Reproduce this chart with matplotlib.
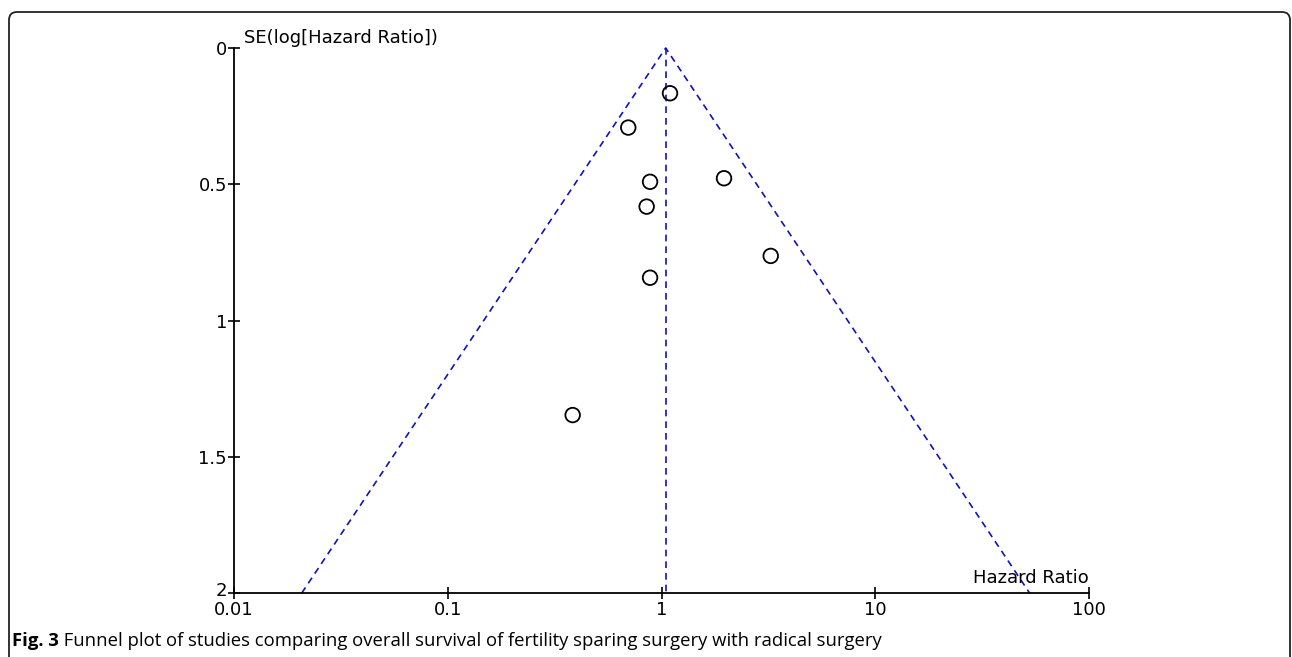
import matplotlib.pyplot as plt
import matplotlib.patches as mpatches
import matplotlib.transforms as mtransforms
import numpy as np

# Study estimates
hazard_ratio = [1.096, 0.699, 0.884, 1.961, 0.852, 3.243, 0.884, 0.384]
se_log_hr = [0.166, 0.292, 0.491, 0.478, 0.582, 0.763, 0.843, 1.347]
pooled_hr = 1.046  # position of the vertical dashed line

x_ticks = [0.01, 0.1, 1, 10, 100]
x_tick_labels = ['0.01', '0.1', '1', '10', '100']
y_ticks = [0, 0.5, 1, 1.5, 2]
y_tick_labels = ['0', '0.5', '1', '1.5', '2']

plt.rcParams['font.family'] = ['DejaVu Sans']
fig = plt.figure(figsize=(12.92, 6.57), dpi=100)
fig.patch.set_facecolor('white')

# Axes placed to match the reference
ax = fig.add_axes([234/1292, 1 - 593/657, 855/1292, 545/657])
ax.set_xscale('log')
ax.set_xlim(0.01, 100)
ax.set_ylim(2, 0)

# Funnel lines (95% pseudo confidence limits)
se_max = 2.0
lo = pooled_hr * np.exp(-1.96 * se_max)
hi = pooled_hr * np.exp(1.96 * se_max)
dash = (0, (4, 3))
ax.plot([lo, pooled_hr, hi], [se_max, 0, se_max], color='#1010c8', lw=1.2, linestyle=dash, clip_on=False)
ax.plot([pooled_hr, pooled_hr], [0, se_max], color='#1010c8', lw=1.2, linestyle=dash, clip_on=False)

# Study points
ax.scatter(hazard_ratio, se_log_hr, s=110, facecolors='none', edgecolors='black', linewidths=1.3, zorder=3, clip_on=False)

# Spines / ticks
for side in ['top', 'right']:
    ax.spines[side].set_visible(False)
for side in ['left', 'bottom']:
    ax.spines[side].set_linewidth(1.3)
ax.set_xticks(x_ticks)
ax.set_xticklabels(x_tick_labels)
ax.set_yticks(y_ticks)
ax.set_yticklabels(y_tick_labels)
ax.minorticks_off()
ax.tick_params(direction='inout', length=8, width=1.2, labelsize=13, pad=1)
ax.tick_params(axis='x', pad=2)

# nudge the bottom y label up a little so it does not sit on "0.01"
lab2 = ax.get_yticklabels()[-1]
lab2.set_transform(lab2.get_transform() + mtransforms.ScaledTranslation(0, 3/72, fig.dpi_scale_trans))

# Axis titles placed like the original
ax.text(0.012, 1.018, 'SE(log[Hazard Ratio])', transform=ax.transAxes, fontsize=13, ha='left', va='center')
ax.text(1.0, 0.028, 'Hazard Ratio', transform=ax.transAxes, fontsize=13, ha='right', va='center')

# Rounded frame around the figure
frame = mpatches.FancyBboxPatch((0.09, -0.5), 12.81, 6.95, boxstyle='round,pad=0,rounding_size=0.08',
                                transform=fig.dpi_scale_trans, facecolor='none', edgecolor='#222222', lw=1.3)
fig.add_artist(frame)

# Caption
t1 = fig.text(12/1292, 1 - 641/657, 'Fig. 3', fontsize=13.3, fontweight='bold', family='Open Sans', va='center', ha='left')
cap = ax.annotate(' Funnel plot of studies comparing overall survival of fertility sparing surgery with radical surgery',
                  xy=(1, 0.5), xycoords=t1, va='center', ha='left', fontsize=13.3, family='Open Sans',
                  annotation_clip=False)

plt.savefig('out.png', dpi=100, facecolor='white')
